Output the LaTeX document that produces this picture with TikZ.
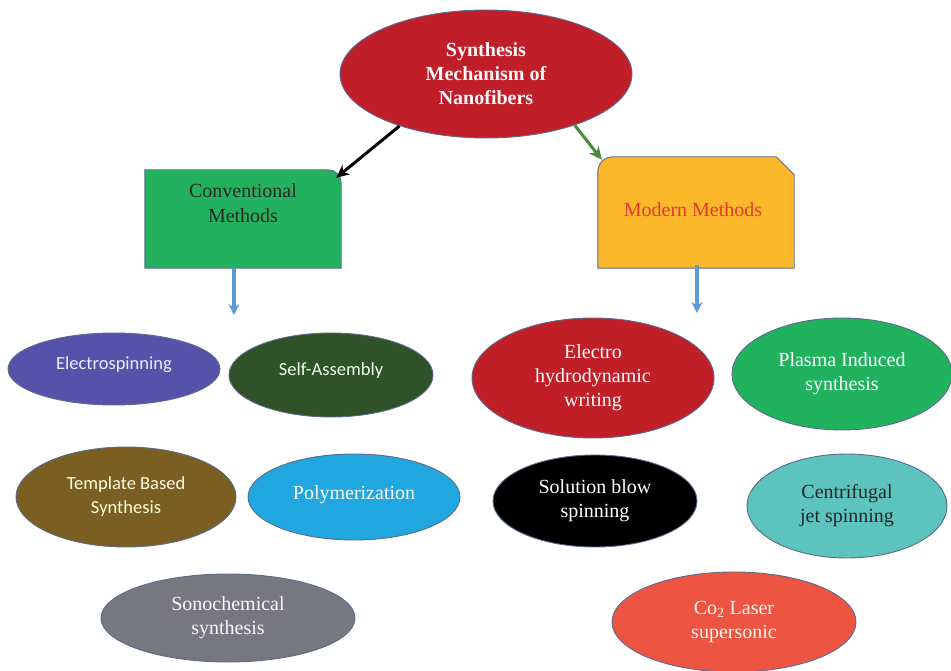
\documentclass[tikz,border=0pt]{standalone}
\usepackage{fontspec}
\setmainfont{Liberation Serif}
\newfontfamily\calibrifont{Carlito}
\usetikzlibrary{shapes.geometric,arrows.meta}
\definecolor{topred}{HTML}{C01F2A}
\definecolor{convgreen}{HTML}{22B25F}
\definecolor{modorange}{HTML}{FBB82A}
\definecolor{modtext}{HTML}{E23B2B}
\definecolor{elecblue}{HTML}{5553A9}
\definecolor{selfgreen}{HTML}{2F5228}
\definecolor{tempbrown}{HTML}{7B5E22}
\definecolor{polyblue}{HTML}{21A7E0}
\definecolor{sonogray}{HTML}{76777F}
\definecolor{ehdred}{HTML}{C01F28}
\definecolor{plasmagreen}{HTML}{21B25E}
\definecolor{centteal}{HTML}{5CC4BC}
\definecolor{laserred}{HTML}{EE5442}
\definecolor{edge}{HTML}{5B6B8C}
\definecolor{arrowgreen}{HTML}{4E8A3E}
\definecolor{arrowblue}{HTML}{5B9BD5}
\tikzset{
  oval/.style={ellipse, draw=edge, line width=0.9pt, inner sep=0pt, align=center,
    font=\fontsize{20}{24}\selectfont},
  sansoval/.style={oval, font=\calibrifont\fontsize{18.5}{24}\selectfont},
  boxarea/.style={rectangle, inner sep=0pt, draw=none},
  boxtext/.style={align=center, inner sep=0pt, font=\fontsize{20}{25}\selectfont},
  blackarrow/.style={-{Stealth[length=13pt,width=12pt]}, line width=3pt, black},
  greenarrow/.style={-{Stealth[length=13pt,width=12pt]}, line width=3pt, arrowgreen},
  bluearrow/.style={-{Stealth[length=11pt,width=11pt]}, line width=3.5pt, arrowblue},
}
\begin{document}
\begin{tikzpicture}[x=1pt,y=-1pt]
\useasboundingbox[fill=white] (0,0) rectangle (951,671);

% top ellipse
\node[oval, fill=topred, text=white!92!pink, font=\bfseries\fontsize{20}{24}\selectfont,
  minimum width=292pt, minimum height=128pt] (top) at (486,74)
  {Synthesis\\Mechanism of\\Nanofibers};

% conventional box
\node[boxarea, minimum width=196pt, minimum height=98pt] (conv) at (243,219) {};
\fill[convgreen, draw=edge, line width=0.9pt]
  (conv.south west) -- (conv.north west) [rounded corners=13pt] -- (conv.north east)
  [sharp corners] -- (conv.south east) -- cycle;
\node[boxtext, text=black!85] (convtxt) at (243,203) {Conventional\\Methods};

% modern box
\node[boxarea, minimum width=196pt, minimum height=111pt] (mod) at (696,212.5) {};
\fill[modorange, draw=edge, line width=0.9pt]
  (mod.south west) [rounded corners=15pt] -- (mod.north west) [sharp corners]
  -- ([xshift=-18pt]mod.north east) -- ([yshift=-18pt]mod.north east)
  -- (mod.south east) -- cycle;
\node[boxtext, text=modtext] (modtxt) at (693,210) {Modern Methods};

% arrows from top
\coordinate (convhit) at ([shift={(-5pt,-8pt)}]conv.north east);
\coordinate (modhit) at ([shift={(4pt,-3pt)}]mod.north west);
\draw[blackarrow] (top.211) -- (convhit);
\draw[greenarrow] (top.330) -- (modhit);

% down arrows
\coordinate (convdown) at (234,315);
\coordinate (moddown) at (697,313);
\draw[bluearrow] (conv.south -| convdown) -- (convdown);
\draw[bluearrow] ([yshift=3pt]mod.south -| moddown) -- (moddown);

% conventional methods
\node[sansoval, fill=elecblue, text=white!92!blue, minimum width=212pt, minimum height=72pt]
  (elec) at (114,369) {\raisebox{12pt}{Electrospinning}};
\node[sansoval, fill=selfgreen, text=white!92!green, minimum width=204pt, minimum height=84pt]
  (self) at (331,375) {\raisebox{12pt}{Self-Assembly}};
\node[sansoval, fill=tempbrown, text=white!88!yellow, minimum width=220pt, minimum height=100pt]
  (temp) at (126,497) {Template Based\\Synthesis};
\node[oval, fill=polyblue, text=white, minimum width=212pt, minimum height=86pt]
  (poly) at (354,497) {\raisebox{8pt}{Polymerization}};
\node[oval, fill=sonogray, text=white!95!gray, minimum width=254pt, minimum height=88pt]
  (sono) at (228,618) {Sonochemical\\synthesis};

% modern methods
\node[oval, fill=ehdred, text=white!95!pink, minimum width=242pt, minimum height=120pt]
  (ehd) at (593,378) {Electro\\hydrodynamic\\writing};
\node[oval, fill=plasmagreen, text=white, minimum width=220pt, minimum height=112pt]
  (plasma) at (842,374) {Plasma Induced\\synthesis};
\node[oval, fill=black, text=white, minimum width=204pt, minimum height=92pt]
  (blow) at (595,501) {Solution blow\\spinning};
\node[oval, fill=centteal, text=black!85, minimum width=200pt, minimum height=104pt]
  (cent) at (847,506) {Centrifugal\\jet spinning};
\node[oval, fill=laserred, text=white!93!orange, minimum width=244pt, minimum height=100pt]
  (laser) at (734,622) {Co\textsubscript{2} Laser\\supersonic};
\end{tikzpicture}
\end{document}
